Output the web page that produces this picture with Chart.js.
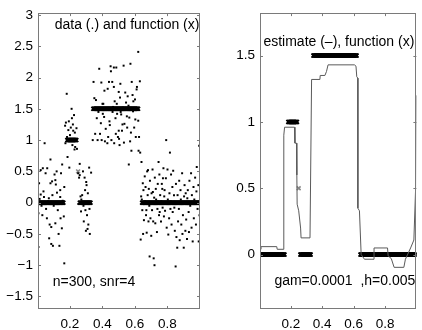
<!DOCTYPE html>
<html><head><meta charset="utf-8">
<script src="https://cdn.jsdelivr.net/npm/chart.js@4/dist/chart.umd.min.js"></script>
<style>
html,body{margin:0;padding:0;background:#fff;}
#wrap{position:relative;width:422px;height:330px;overflow:hidden;background:#fff;}
canvas{position:absolute;top:0;}
</style></head><body>
<div id="wrap"><canvas id="c1" width="211" height="330" style="left:0"></canvas><canvas id="c2" width="211" height="330" style="left:211px"></canvas></div>
<script>
// ---- data ----
const xTicks = [0.2, 0.4, 0.6, 0.8];
const yTicksLeft = [-1.5, -1, -0.5, 0, 0.5, 1, 1.5, 2, 2.5, 3];
const yTicksRight = [0, 0.5, 1, 1.5];

// noisy observations (x, y)
const dataX = [
0.006,0.006,0.01,0.013,0.02,0.02,0.025,0.03,0.033,0.037,0.04,0.044,0.05,0.053,0.058,0.06,0.065,0.07,0.072,0.075,0.08,0.08,0.085,0.085,0.09,0.092,0.095,0.1,0.105,0.11,0.11,0.113,0.118,0.12,0.125,0.13,0.135,0.14,0.14,0.142,0.145,0.15,0.152,0.155,0.16,0.162,0.165,0.165,
0.17,0.172,0.175,0.18,0.182,0.185,0.19,0.193,0.196,0.2,0.205,0.21,0.212,0.215,0.218,0.22,0.225,0.228,0.23,0.232,0.235,0.24,0.243,
0.25,0.252,0.256,0.26,0.26,0.265,0.268,0.27,0.275,0.28,0.283,0.285,0.29,0.293,0.295,0.298,0.3,0.302,0.305,0.308,0.31,0.313,0.318,0.32,0.322,0.325,0.33,
0.34,0.345,0.35,0.355,0.36,0.365,0.37,0.375,0.38,0.383,0.385,0.39,0.393,0.395,0.4,0.402,0.405,0.41,0.412,0.415,0.42,0.425,0.43,0.432,0.435,0.44,0.443,0.445,0.45,0.452,0.455,0.46,0.462,0.465,0.47,0.47,0.472,0.475,0.48,0.482,0.485,0.488,0.49,0.495,0.5,0.5,0.502,0.505,0.508,0.51,0.512,0.515,0.52,0.523,0.525,0.53,0.532,0.535,0.54,0.542,0.545,0.55,0.552,0.555,0.56,0.562,0.565,0.57,0.572,0.575,0.578,0.58,0.585,0.588,0.59,0.595,0.6,0.602,0.605,0.61,0.612,0.615,0.62,0.62,0.622,0.625,0.63,0.632,
0.635,0.638,0.64,0.642,0.645,0.648,0.65,0.652,0.655,0.66,0.662,0.665,0.668,0.67,0.672,0.675,0.678,0.68,0.683,0.685,0.688,0.69,0.692,0.695,0.7,0.702,0.705,0.708,0.71,0.712,0.715,0.718,0.72,0.722,0.725,0.728,0.73,0.735,0.738,0.74,0.742,0.745,0.748,0.75,0.752,0.755,0.76,0.762,0.765,0.768,0.77,0.772,0.775,0.778,0.78,0.782,0.785,0.79,0.792,0.795,0.8,0.802,0.805,0.81,0.812,0.815,0.818,0.82,0.822,0.825,0.83,0.832,0.835,0.84,0.842,0.845,0.85,0.852,0.855,0.86,0.862,0.865,0.87,0.872,0.875,0.88,0.882,0.885,0.89,0.892,0.895,0.9,0.902,0.905,0.91,0.912,0.915,0.92,0.922,0.925,0.93,0.932,0.935,0.94,0.945,0.948,0.95,0.955,0.96,0.962,0.965,0.97,0.975,0.978,0.98,0.985,0.99,0.992,0.995,0.997,1.0,1.0
];
const dataY = [
-0.71,-0.17,0.31,0.06,0.13,0.52,-0.05,-0.2,0.55,0.18,0.09,0.95,0.47,-0.1,-0.25,0.55,0.02,0.07,-0.57,-0.35,0.69,0.31,-0.39,-0.66,0.34,0.12,-0.69,-0.05,0.45,0.36,-0.33,0.29,0.5,0.16,-0.12,-0.5,-0.69,0.09,0.2,-0.25,0.47,-0.41,0.61,0.03,0.02,-0.22,-0.97,0.25,
1.23,0.95,1.28,1.74,1.05,0.73,1.16,1.3,0.56,1.08,1.2,1.5,1.35,0.92,1.25,1.15,1.4,0.85,1.12,0.89,1.02,1.19,0.86,
0.47,-0.02,0.4,0.62,0.44,0.1,-0.14,0.05,0.12,0.5,-0.05,-0.3,0.4,0.2,-0.12,-0.45,0.33,0.28,-0.2,-0.42,0.15,-0.35,0.56,-0.1,-0.5,0.02,0.48,
1.0,1.93,1.67,1.1,1.64,1.35,1.0,1.45,2.14,1.5,1.1,1.27,1.92,1.0,1.58,1.42,1.58,1.37,1.79,0.98,1.18,1.48,0.95,1.82,1.05,1.93,1.3,1.24,2.18,2.1,1.0,1.93,1.45,1.53,1.85,2.16,0.95,1.62,1.35,1.1,2.16,1.58,1.42,1.05,1.77,1.15,1.02,0.92,1.68,1.9,1.45,1.41,1.15,1.25,1.52,2.19,0.96,1.26,1.76,1.5,1.6,1.38,1.2,1.7,1.55,0.61,1.36,0.98,2.22,1.12,0.83,1.93,1.72,1.46,1.62,1.2,1.65,1.33,1.05,1.81,1.85,1.5,2.41,1.31,0.83,1.05,1.94,0.8,
-0.59,0.1,0.65,0.05,-0.12,0.31,-0.5,0.2,-0.28,0.42,0.02,0.25,-0.2,-0.12,-0.48,0.5,0.12,0.52,-0.3,0.22,-0.05,-0.86,0.35,-0.25,-0.53,0.15,-0.12,0.53,0.17,-0.3,-0.89,0.08,-1.0,0.4,-0.33,0.22,0.05,-0.47,-0.1,0.3,0.02,0.65,-0.2,0.45,-0.15,0.12,-0.3,0.02,0.3,0.22,-0.08,0.39,0.55,-0.22,0.1,0.2,-0.13,0.39,1.0,-0.4,0.53,0.05,-0.51,-0.25,0.15,0.8,-0.1,0.02,0.45,-0.35,0.25,-0.15,0.51,0.12,-0.08,-0.45,-1.02,0.3,-0.55,-0.72,0.12,-0.3,-0.1,0.35,-0.6,0.2,0.05,-0.35,0.47,-0.5,-0.2,-0.72,0.1,0.28,-0.45,0.15,-0.27,-0.58,0.07,0.2,-0.15,-0.47,0.35,-0.05,0.47,-0.4,0.12,-0.62,0.25,-0.25,0.05,0.4,-0.35,0.18,0.57,-0.1,0.28,-0.62,0.91,-0.2,0.77,0.52
];

// true function: piecewise constant pieces (start, end, value)
const fnStart = [0.0033, 0.183, 0.25, 0.26, 0.343, 0.643];
const fnEnd   = [0.16,   0.24,  0.25, 0.327, 0.62, 1.0];
const fnValue = [0,      1,     0.5,  0,    1.5,  0];
const fnStep = 1/300;

// estimate (polyline vertices)
const estX = [0.0033,0.01,0.01,0.11,0.113,0.15,0.155,0.16,0.223,0.226,0.236,0.238,0.24,0.25,0.262,0.265,0.322,0.332,0.385,0.387,0.417,0.427,0.437,0.605,0.615,0.62,0.627,0.627,0.637,0.648,0.669,0.711,0.73,0.73,0.816,0.82,0.84,0.858,0.92,0.93,0.963,0.984,0.995,1.0];
const estY = [0.04,0.04,0.06,0.06,0.04,0.04,0.9,0.96,0.96,0.84,0.84,0.6,0.38,0.33,0.2,0.126,0.126,1.32,1.32,1.35,1.35,1.38,1.43,1.43,1.42,1.34,1.33,0.35,0.33,0.0,-0.035,-0.035,-0.035,0.05,0.05,-0.01,-0.03,-0.096,-0.096,-0.035,0.05,0.11,0.5,1.2];

// ---- build ----
const obs = dataX.map((x,i)=>({x:x, y:dataY[i]}));
const fnPts = [];
fnStart.forEach((s,k)=>{
  for(let x=s; x<=fnEnd[k]+1e-9; x+=fnStep){ fnPts.push({x:x, y:fnValue[k]}); }
});
const fnColors = fnPts.map(p=> p.y===0.5 ? '#8a8a8a' : '#000');
const est = estX.map((x,i)=>({x:x, y:estY[i]}));

const FONT = 'Liberation Sans, Arial, Helvetica, sans-serif';
function fmt(v){ const s = String(v); return s.replace('-', '\u2212'); }

function boxPlugin(texts){
  return {
    id:'matlabBox',
    afterDatasetsDraw(chart){
      const ctx = chart.ctx, a = chart.chartArea;
      const xs = chart.scales.x, ys = chart.scales.y;
      ctx.save();
      ctx.strokeStyle = '#7a7a7a';
      ctx.lineWidth = 1;
      ctx.strokeRect(Math.round(a.left)+0.5, Math.round(a.top)+0.5, Math.round(a.right-a.left)-1, Math.round(a.bottom-a.top)-1);
      ctx.beginPath();
      const tl = 3;
      xs.ticks.forEach(t=>{
        const px = Math.round(xs.getPixelForValue(t.value))+0.5;
        ctx.moveTo(px, a.bottom); ctx.lineTo(px, a.bottom-tl);
        ctx.moveTo(px, a.top); ctx.lineTo(px, a.top+tl);
      });
      ys.ticks.forEach(t=>{
        const py = Math.round(ys.getPixelForValue(t.value))+0.5;
        ctx.moveTo(a.left, py); ctx.lineTo(a.left+tl, py);
        ctx.moveTo(a.right, py); ctx.lineTo(a.right-tl, py);
      });
      ctx.stroke();
      ctx.fillStyle = '#000';
      ctx.font = '14px ' + FONT;
      ctx.textBaseline = 'middle';
      ctx.textAlign = 'left';
      texts.forEach(t=>{
        ctx.fillText(t.text, xs.getPixelForValue(t.x), ys.getPixelForValue(t.y));
      });
      ctx.restore();
    }
  };
}

function makeOptions(ymin, ymax, yTicks, yWidth, pad){
  return {
    responsive:false, animation:false, devicePixelRatio:1,
    layout:{padding:pad},
    plugins:{legend:{display:false}, tooltip:{enabled:false}},
    scales:{
      x:{type:'linear', min:0.0033, max:1.0,
        grid:{display:false, drawTicks:false}, border:{display:false},
        afterBuildTicks(s){ s.ticks = xTicks.map(v=>({value:v})); },
        afterFit(s){ s.height = 21; },
        ticks:{color:'#000', font:{family:FONT, size:13.5}, padding:7, maxRotation:0, autoSkip:false,
          callback:(v)=>fmt(v)}
      },
      y:{type:'linear', min:ymin, max:ymax,
        grid:{display:false, drawTicks:false}, border:{display:false},
        afterBuildTicks(s){ s.ticks = yTicks.map(v=>({value:v})); },
        afterFit(s){ s.width = yWidth; },
        ticks:{color:'#000', font:{family:FONT, size:13.5}, padding:5, autoSkip:false,
          callback:(v)=>fmt(v)}
      }
    }
  };
}

const fnDataset = {
  type:'scatter', data:fnPts, showLine:false,
  pointStyle:'crossRot', pointRadius:2.7, pointBorderWidth:1.6,
  pointBorderColor:fnColors, pointBackgroundColor:fnColors
};

new Chart(document.getElementById('c1'), {
  type:'scatter',
  data:{datasets:[
    {data:obs, showLine:false, pointStyle:'rect', pointRadius:1.4, pointBorderWidth:0,
     pointBackgroundColor:'#000', pointBorderColor:'#000'},
    Object.assign({}, fnDataset)
  ]},
  options:makeOptions(-1.7, 3.03, yTicksLeft, 38, {top:13, right:11, left:0, bottom:0}),
  plugins:[boxPlugin([
    {text:'data (.) and function (x)', x:0.106, y:2.83},
    {text:'n=300, snr=4', x:0.094, y:-1.27}
  ])]
});

new Chart(document.getElementById('c2'), {
  type:'scatter',
  data:{datasets:[
    {data:est, showLine:true, borderColor:'#5a5a5a', borderWidth:1, pointRadius:0, fill:false, tension:0},
    Object.assign({}, fnDataset)
  ]},
  options:makeOptions(-0.41, 1.82, yTicksRight, 49, {top:7, right:1, left:0, bottom:0}),
  plugins:[boxPlugin([
    {text:'estimate (\u2013), function (x)', x:0.025, y:1.6},
    {text:'gam=0.0001  ,h=0.005', x:0.095, y:-0.2}
  ])]
});
</script>
</body></html>
